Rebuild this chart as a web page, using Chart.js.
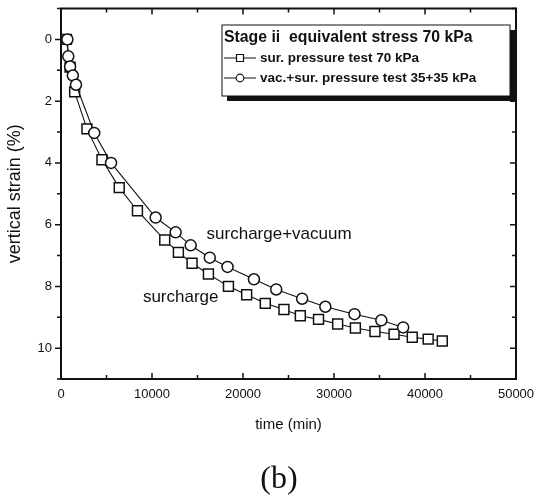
<!DOCTYPE html>
<html>
<head>
<meta charset="utf-8">
<script src="https://cdn.jsdelivr.net/npm/chart.js@4.4.1/dist/chart.umd.min.js"></script>
<style>
  html, body { margin: 0; padding: 0; background: #fff; }
</style>
</head>
<body>
<canvas id="myChart" width="542" height="497"></canvas>
<script>
// surcharge only (squares)
var surTime   = [600, 1000, 1500, 2850, 4500, 6400, 8400, 11400, 12900, 14400, 16200, 18400, 20400, 22450, 24500, 26300, 28300, 30400, 32350, 34500, 36600, 38600, 40350, 41900];
var surStrain = [0, 0.9, 1.7, 2.9, 3.9, 4.8, 5.55, 6.5, 6.9, 7.25, 7.6, 8.0, 8.27, 8.55, 8.75, 8.95, 9.07, 9.22, 9.35, 9.46, 9.55, 9.65, 9.71, 9.77];
// vacuum + surcharge (circles)
var vacTime   = [700, 800, 1000, 1300, 1650, 3650, 5500, 10400, 12600, 14250, 16350, 18300, 21200, 23650, 26500, 29050, 32250, 35200, 37600];
var vacStrain = [0, 0.55, 0.88, 1.17, 1.47, 3.03, 4.0, 5.77, 6.25, 6.67, 7.07, 7.37, 7.77, 8.1, 8.4, 8.66, 8.9, 9.1, 9.33];

var xTicks = [0, 10000, 20000, 30000, 40000, 50000];
var xMinor = [5000, 15000, 25000, 35000, 45000];
var yTicks = [0, 2, 4, 6, 8, 10];
var yMinor = [-1, 1, 3, 5, 7, 9, 11];

var FONT = '"Liberation Sans", Arial, sans-serif';

function pts(xs, ys) {
  return xs.map(function (x, i) { return { x: x, y: ys[i] }; });
}

var framePlugin = {
  id: 'frame',
  afterDraw: function (chart) {
    var ctx = chart.ctx, a = chart.chartArea;
    var xs = chart.scales.x, ys = chart.scales.y;
    ctx.save();
    ctx.strokeStyle = '#111';
    ctx.lineWidth = 2;
    ctx.strokeRect(a.left, a.top, a.right - a.left, a.bottom - a.top);

    ctx.lineWidth = 1.5;
    ctx.beginPath();
    xTicks.concat(xMinor).forEach(function (v) {
      var px = xs.getPixelForValue(v);
      var len = xTicks.indexOf(v) >= 0 ? 6 : 4;
      ctx.moveTo(px, a.bottom); ctx.lineTo(px, a.bottom - len);
      ctx.moveTo(px, a.top); ctx.lineTo(px, a.top + len);
    });
    yTicks.concat(yMinor).forEach(function (v) {
      var py = ys.getPixelForValue(v);
      var len = yTicks.indexOf(v) >= 0 ? 6 : 4;
      ctx.moveTo(a.left, py); ctx.lineTo(a.left - len, py);
      ctx.moveTo(a.right, py); ctx.lineTo(a.right - len, py);
    });
    ctx.stroke();

    // legend box with shadow
    var bx = 222, by = 25, bw = 288, bh = 71;
    ctx.fillStyle = '#111';
    ctx.fillRect(bx + 5, by + 5, bw, bh);
    ctx.fillStyle = '#fff';
    ctx.fillRect(bx, by, bw, bh);
    ctx.lineWidth = 1;
    ctx.strokeRect(bx, by, bw, bh);

    ctx.fillStyle = '#111';
    ctx.textBaseline = 'middle';
    ctx.textAlign = 'left';
    ctx.font = 'bold 15.8px ' + FONT;
    ctx.fillText('Stage ii  equivalent stress 70 kPa', 224, 38);
    ctx.font = 'bold 13.5px ' + FONT;
    var rows = [[58, 'rect', chart.data.datasets[1].label], [78, 'circle', chart.data.datasets[0].label]];
    rows.forEach(function (r) {
      var y = r[0];
      ctx.lineWidth = 1.2;
      ctx.beginPath();
      ctx.moveTo(224, y); ctx.lineTo(236, y);
      ctx.moveTo(244, y); ctx.lineTo(256, y);
      ctx.stroke();
      ctx.beginPath();
      if (r[1] === 'rect') ctx.rect(236.5, y - 3.5, 7, 7);
      else ctx.arc(240, y, 3.8, 0, Math.PI * 2);
      ctx.stroke();
      ctx.fillText(r[2], 260, y);
    });

    // curve annotations
    ctx.font = '17px ' + FONT;
    ctx.fillText('surcharge+vacuum', xs.getPixelForValue(16000), ys.getPixelForValue(6.32));
    ctx.fillText('surcharge', xs.getPixelForValue(9000), ys.getPixelForValue(8.37));

    // panel caption
    ctx.font = '32px "Liberation Serif", "Times New Roman", serif';
    ctx.textAlign = 'center';
    ctx.fillText('(b)', 279, 480);
    ctx.restore();
  }
};

var ctx = document.getElementById('myChart').getContext('2d');
var myChart = new Chart(ctx, {
  type: 'line',
  data: {
    datasets: [{
      label: 'vac.+sur. pressure test 35+35 kPa',
      data: pts(vacTime, vacStrain),
      borderColor: '#111',
      borderWidth: 1.1,
      pointStyle: 'circle',
      pointRadius: 5.5,
      pointBorderWidth: 1.5,
      pointBackgroundColor: '#fff',
      pointBorderColor: '#111',
      fill: false,
      tension: 0
    }, {
      label: 'sur. pressure test 70 kPa',
      data: pts(surTime, surStrain),
      borderColor: '#111',
      borderWidth: 1.1,
      pointStyle: 'rect',
      pointRadius: 7,
      pointBorderWidth: 1.5,
      pointBackgroundColor: '#fff',
      pointBorderColor: '#111',
      fill: false,
      tension: 0
    }]
  },
  options: {
    responsive: false,
    animation: false,
    layout: { padding: { top: 4, right: 26, left: 0, bottom: 0 } },
    plugins: { legend: { display: false }, tooltip: { enabled: false } },
    scales: {
      x: {
        type: 'linear',
        min: 0, max: 50000,
        afterBuildTicks: function (s) { s.ticks = xTicks.map(function (v) { return { value: v }; }); },
        afterFit: function (s) { s.height = 118; s.paddingLeft = 0; s.paddingRight = 0; },
        grid: { display: false, drawTicks: false },
        border: { display: false },
        ticks: {
          color: '#111', padding: 8, maxRotation: 0, font: { family: FONT, size: 13 },
          callback: function (v) { return String(v); }
        },
        title: {
          display: true, text: 'time (min)', color: '#111',
          font: { family: FONT, size: 15 }, padding: { top: 4, bottom: 63 }
        }
      },
      y: {
        type: 'linear',
        min: -1, max: 11,
        reverse: true,
        afterBuildTicks: function (s) { s.ticks = yTicks.map(function (v) { return { value: v }; }); },
        afterFit: function (s) { s.width = 61; s.paddingTop = 0; s.paddingBottom = 0; },
        grid: { display: false, drawTicks: false },
        border: { display: false },
        ticks: {
          color: '#111', padding: 9, font: { family: FONT, size: 13, lineHeight: 0.5 },
          callback: function (v) { return String(v); }
        },
        title: {
          display: true, text: 'vertical strain (%)', color: '#111',
          font: { family: FONT, size: 18 }, padding: { top: 4, bottom: 0 }
        }
      }
    }
  },
  plugins: [framePlugin]
});
</script>
</body>
</html>
